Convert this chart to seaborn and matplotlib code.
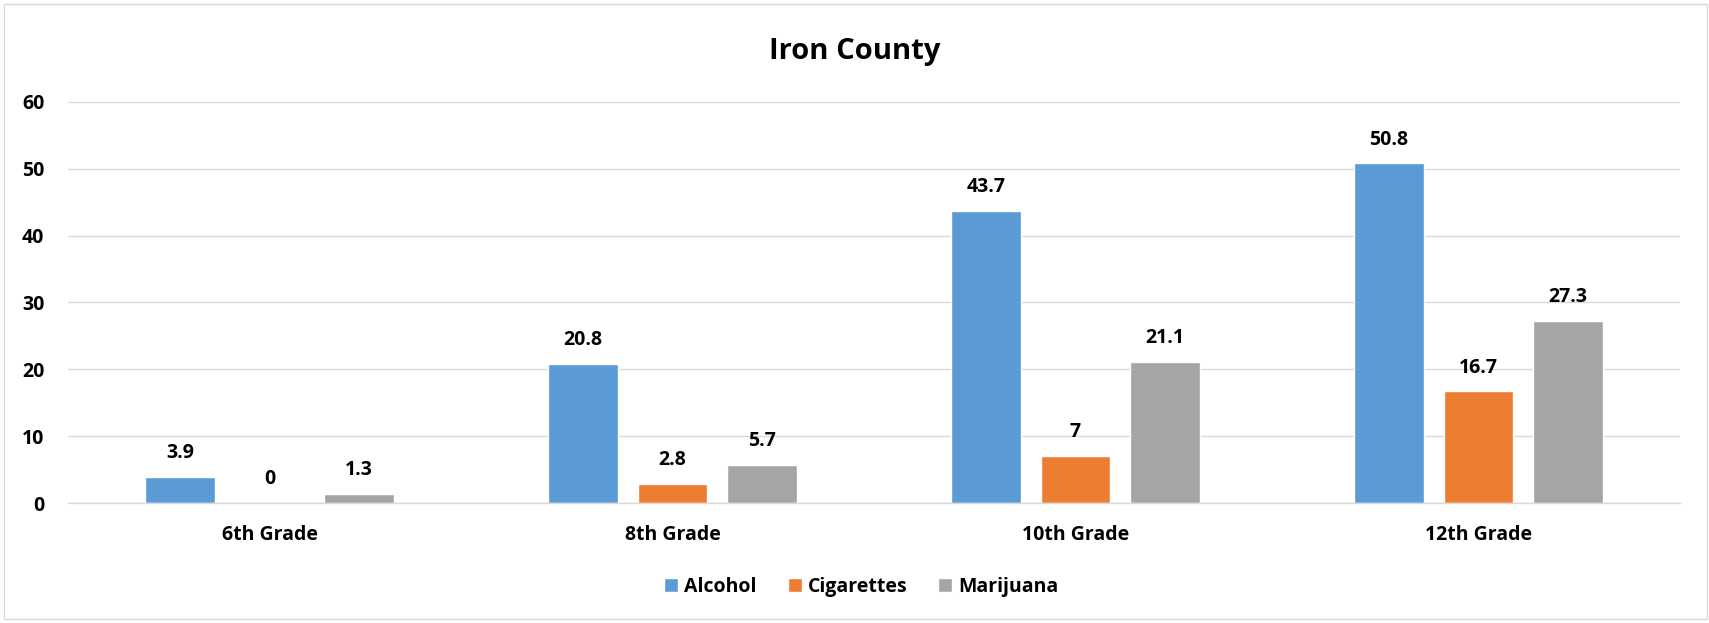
import matplotlib

matplotlib.use("Agg")

import matplotlib.pyplot as plt
import pandas as pd
import seaborn as sns
from matplotlib.patches import Rectangle

# Chart data
grades = ["6th Grade", "8th Grade", "10th Grade", "12th Grade"]
substances = ["Alcohol", "Cigarettes", "Marijuana"]
alcohol = [3.9, 20.8, 43.7, 50.8]
cigarettes = [0, 2.8, 7, 16.7]
marijuana = [1.3, 5.7, 21.1, 27.3]
colors = ["#5B9BD5", "#ED7D31", "#A5A5A5"]
y_ticks = [0, 10, 20, 30, 40, 50, 60]

rows = []
for name, vals in zip(substances, [alcohol, cigarettes, marijuana]):
    for g, v in zip(grades, vals):
        rows.append({"Grade": g, "Substance": name, "Value": v})
df = pd.DataFrame(rows)

FONT = ["Open Sans", "DejaVu Sans"]
sns.set_theme(style="white")
plt.rcParams["font.family"] = FONT
plt.rcParams["font.weight"] = "bold"
plt.rcParams["text.color"] = "#000000"

fig = plt.figure(figsize=(17.09, 6.23), dpi=100)
ax = fig.add_axes([0.0398, 0.1926, 0.9432, 0.6437])

sns.barplot(
    data=df,
    x="Grade",
    y="Value",
    hue="Substance",
    palette=colors,
    width=0.666,
    gap=0.22,
    saturation=1,
    ax=ax,
)

# Data labels above each bar
for container in ax.containers:
    ax.bar_label(
        container,
        labels=[f"{v:g}" for v in container.datavalues],
        padding=10,
        fontsize=14,
        fontweight="bold",
        color="#000000",
    )

ax.set_ylim(0, 60)
ax.set_yticks(y_ticks)
ax.set_xlim(-0.5, 3.5)
ax.yaxis.grid(True, color="#D9D9D9", linewidth=1.0)
ax.set_axisbelow(True)
for side in ["top", "right", "left"]:
    ax.spines[side].set_visible(False)
ax.spines["bottom"].set_color("#D9D9D9")
ax.spines["bottom"].set_linewidth(1.0)
ax.tick_params(axis="both", length=0, labelsize=14, colors="#000000")
ax.tick_params(axis="y", pad=17)
ax.tick_params(axis="x", pad=16)
for lbl in ax.get_xticklabels() + ax.get_yticklabels():
    lbl.set_fontweight("bold")
ax.set_xlabel("")
ax.set_ylabel("")

fig.text(0.5, 0.905, "Iron County", ha="center", va="baseline", fontsize=21, fontweight="bold")

ax.legend_.remove()
handles, labels = ax.get_legend_handles_labels()
fig.legend(
    handles,
    labels,
    loc="center",
    bbox_to_anchor=(0.504, 0.058),
    ncol=3,
    frameon=False,
    handlelength=0.72,
    handleheight=0.72,
    handletextpad=0.3,
    columnspacing=1.6,
    prop={"family": FONT, "weight": "bold", "size": 14},
)

# Chart area border
fig.patches.append(
    Rectangle((0.0023, 0.0064), 0.9965, 0.9872, transform=fig.transFigure,
              fill=False, edgecolor="#D9D9D9", linewidth=1.0)
)

fig.savefig("out.png", dpi=100, facecolor="white")
